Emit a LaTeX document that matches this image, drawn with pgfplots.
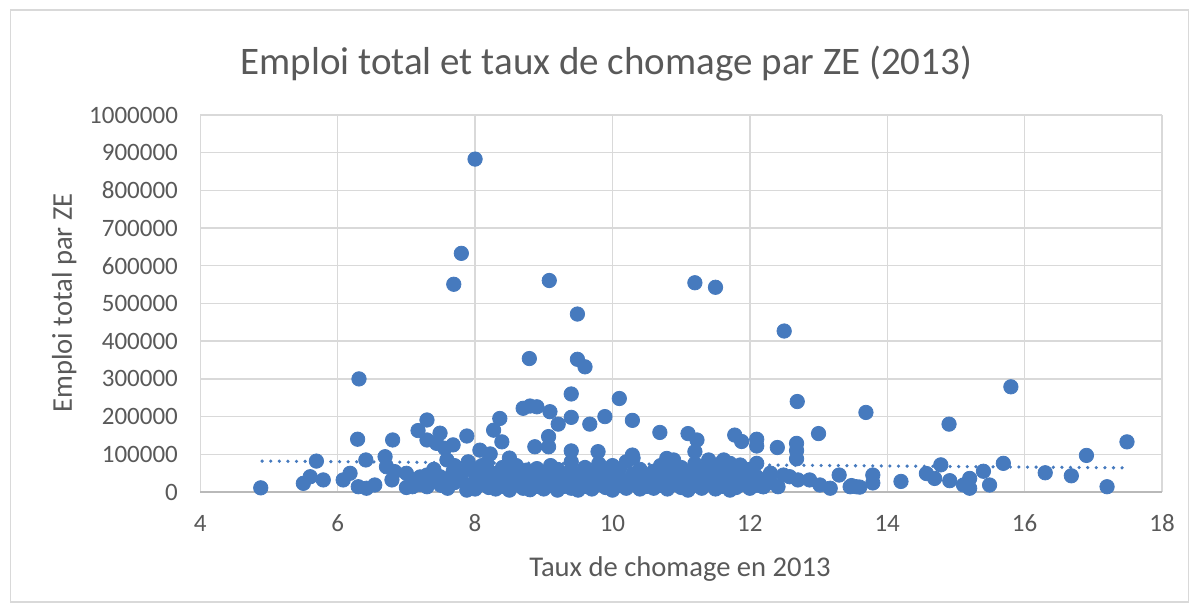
\documentclass[border=0pt]{standalone}
\usepackage{fontspec}
\setmainfont{Carlito}
\usepackage{pgfplots}
\usepackage{pgfplotstable}
\pgfplotsset{compat=1.18}
\definecolor{pt}{RGB}{70,122,190}
\definecolor{txt}{RGB}{89,89,89}
\definecolor{grd}{RGB}{217,217,217}
\pgfplotstableread{
x y
4.88 11000
5.50 23000
5.60 40500
5.69 82000
5.79 32000
6.08 32000
6.18 49600
6.30 14000
6.31 300000
6.29 140000
6.41 85000
6.42 10000
6.54 18600
6.69 93600
6.71 67000
6.79 32000
6.80 138000
6.83 54000
7.00 49600
7.09 14000
7.17 163000
7.30 191000
7.30 138000
7.44 129000
7.49 156000
7.56 116000
7.68 125000
7.69 551000
7.80 633000
7.88 148500
8.00 883000
8.07 111000
8.22 101000
8.27 164000
8.36 195000
8.39 133000
8.70 222000
8.79 354000
8.80 228000
8.90 226000
8.87 120000
9.07 147000
9.07 120000
9.08 561000
9.09 213000
9.21 180000
9.40 260000
9.40 198000
9.40 109000
9.49 472000
9.49 352000
9.60 332000
9.67 180000
9.79 107000
9.89 200000
10.10 248000
10.29 190000
10.29 98000
10.69 158000
10.79 89000
10.89 85000
11.10 155000
11.20 555000
11.23 138000
11.20 107000
11.50 543000
11.78 151000
11.88 134000
12.10 140000
12.10 122000
12.40 118000
12.50 427000
12.69 240000
12.68 129000
12.68 110000
12.68 88000
13.00 155000
13.69 211000
14.90 180000
15.80 279000
17.49 133000
16.90 97000
16.30 51000
16.68 43000
17.20 14000
15.69 76000
15.40 55000
15.49 18600
15.11 18600
15.20 36000
15.20 10000
14.91 30000
14.78 72000
14.69 36000
14.57 49000
14.20 28000
13.79 45000
13.79 24000
13.60 13000
13.48 17000
13.30 45000
13.17 10000
13.02 18600
12.87 32000
12.70 32000
12.58 40500
12.49 45000
12.41 14000
12.29 32000
12.19 14000
12.10 76000
12.10 40500
11.90 32000
11.66 32000
11.71 5000
11.62 85000
11.71 76000
11.86 71600
12.00 49600
13.46 14000
13.55 14000
7.30 45000
7.30 14000
7.49 40500
7.59 85000
7.68 54000
7.80 32000
7.88 5000
8.07 58000
8.17 76000
8.31 49600
8.46 32000
8.56 49600
8.70 32000
8.75 58000
7.0 12000
7.1 28000
7.2 20000
7.2 40000
7.3 25000
7.4 30000
7.4 60000
7.5 18000
7.6 10000
7.6 35000
7.7 25000
7.7 70000
7.8 45000
7.9 15000
7.9 62000
7.9 80000
8.0 8000
8.0 28000
8.0 50000
8.1 20000
8.1 40000
8.1 70000
8.2 12000
8.2 35000
8.2 55000
8.3 25000
8.3 8000
8.4 15000
8.4 38000
8.4 65000
8.5 5000
8.5 32000
8.5 90000
8.6 20000
8.6 42000
8.6 70000
8.7 10000
8.8 25000
8.8 48000
8.8 6000
8.9 15000
8.9 35000
8.9 62000
9.0 8000
9.0 28000
9.0 45000
9.1 18000
9.1 38000
9.1 70000
9.2 5000
9.2 30000
9.2 52000
9.2 60000
9.3 22000
9.3 42000
9.3 15000
9.4 10000
9.4 35000
9.4 60000
9.4 80000
9.5 25000
9.5 45000
9.5 5000
9.6 15000
9.6 38000
9.6 65000
9.7 8000
9.7 28000
9.7 50000
9.8 20000
9.8 42000
9.8 75000
9.9 12000
9.9 32000
9.9 55000
10.0 5000
10.0 25000
10.0 45000
10.0 70000
10.1 18000
10.1 38000
10.1 60000
10.2 10000
10.2 30000
10.2 80000
10.3 22000
10.3 48000
10.3 90000
10.4 8000
10.4 35000
10.4 60000
10.5 15000
10.5 40000
10.6 25000
10.6 55000
10.6 10000
10.7 18000
10.7 42000
10.7 70000
10.8 8000
10.8 30000
10.8 60000
10.9 20000
10.9 45000
11.0 12000
11.0 35000
11.0 65000
11.1 5000
11.1 28000
11.1 50000
11.2 18000
11.2 40000
11.2 75000
11.3 10000
11.3 32000
11.3 60000
11.4 22000
11.4 50000
11.4 85000
11.5 8000
11.5 35000
11.5 70000
11.6 15000
11.6 45000
11.6 80000
11.7 25000
11.7 55000
11.8 12000
11.8 38000
11.8 65000
11.9 20000
11.9 48000
12.0 10000
12.0 30000
12.0 60000
12.1 18000
12.2 14000
12.2 32000
12.3 25000
12.3 50000
}\pts
\begin{document}
\begin{tikzpicture}
\path[use as bounding box] (-100.15pt,-59pt) rectangle (498.85pt,246pt);
\draw[grd, line width=0.6pt] (-95pt,-55pt) rectangle (494pt,241pt);
\begin{axis}[
  at={(0pt,0pt)}, anchor=south west,
  width=480.85pt, height=188.5pt, scale only axis,
  xmin=4, xmax=18, ymin=0, ymax=1000000,
  xtick={4,6,8,10,12,14,16,18},
  ytick={0,100000,200000,300000,400000,500000,600000,700000,800000,900000,1000000},
  grid=major, major grid style={grd, line width=0.7pt},
  axis line style={draw=none}, tick style={draw=none},
  scaled y ticks=false, scaled x ticks=false,
  /pgf/number format/assume math mode=true,
  yticklabel style={/pgf/number format/fixed, /pgf/number format/1000 sep={}, font=\fontsize{12.5}{14}\selectfont, text=txt, inner sep=0pt, anchor=east, xshift=-11pt},
  xticklabel style={font=\fontsize{12.5}{14}\selectfont, text=txt, inner sep=0pt, anchor=center, yshift=-15.5pt},
  clip=false,
]
\addplot[pt, line width=1.8pt, line cap=round, dash pattern=on 0pt off 4.3pt] coordinates {(4.9,82000) (17.5,64000)};
\addplot[pt, only marks, mark=*, mark size=3.6pt, mark options={draw=pt, fill=pt, line width=0.4pt}] table[x=x,y=y] {\pts};
\draw[gray!55, line width=0.7pt] (axis cs:4,0) -- (axis cs:18,0);
\end{axis}
\node[txt, font=\fontsize{19.5}{23}\selectfont, anchor=base] at (203pt,208.5pt) {Emploi total et taux de chomage par ZE (2013)};
\node[txt, font=\fontsize{14.3}{16}\selectfont, anchor=base] at (239.85pt,-42pt) {Taux de chomage en 2013};
\node[txt, font=\fontsize{14.3}{16}\selectfont, anchor=base, rotate=90] at (-64.15pt,94.5pt) {Emploi total par ZE};
\end{tikzpicture}
\end{document}
